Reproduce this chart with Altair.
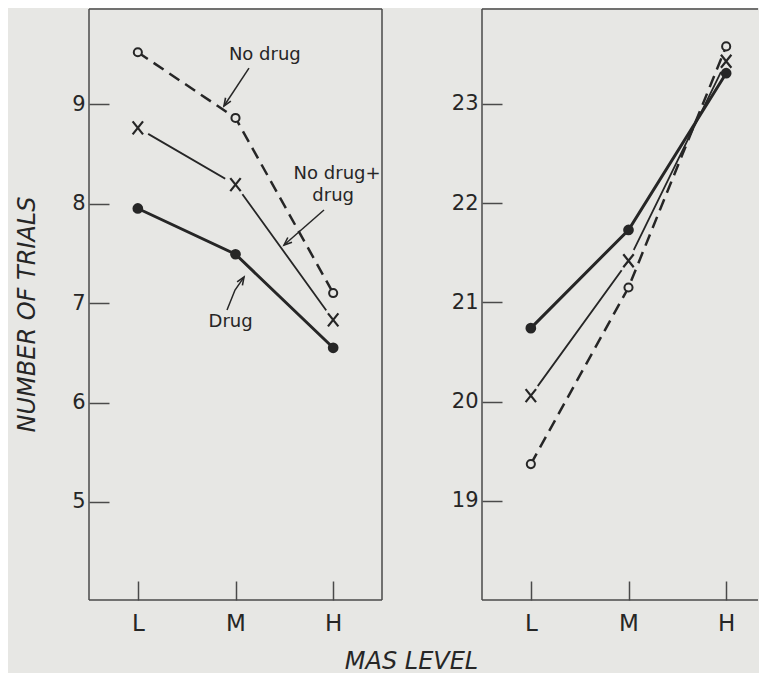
import altair as alt
import pandas as pd

# ---------------- data ----------------
levels = ["L", "M", "H"]
level_pos = [1, 2, 3]

left_no_drug = [9.52, 8.86, 7.10]
left_combined = [8.76, 8.19, 6.83]
left_drug = [7.95, 7.49, 6.55]

right_no_drug = [19.37, 21.15, 23.58]
right_combined = [20.06, 21.42, 23.43]
right_drug = [20.74, 21.73, 23.31]

left_ticks = [5, 6, 7, 8, 9]
right_ticks = [19, 20, 21, 22, 23]

ann_text = ["No drug", "No drug+", "drug", "Drug"]
ann_x = [2.30, 3.04, 3.00, 1.95]
ann_y = [9.49, 8.30, 8.075, 6.81]

arrow_id = [1, 1, 2, 2, 3, 3, 3]
arrow_order = [0, 1, 0, 1, 0, 1, 2]
arrow_x = [2.138, 1.882, 2.906, 2.497, 1.913, 1.995, 2.087]
arrow_y = [9.36, 8.98, 7.935, 7.583, 6.93, 7.13, 7.26]
head_x = [1.882, 2.497, 2.087]
head_y = [8.98, 7.583, 7.26]
head_angle = [213, 229, 33]

# ---------------- style ----------------
BG = "#e7e7e4"
INK = "#262626"
FRAME = "#4a4a4a"
FONT = "DejaVu Sans"
W_L, W_R, H = 293, 276, 591
PX_PER_LEVEL = W_L / 3.0

X_PATH = "M-0.8,-1L0.8,1M-0.8,1L0.8,-1"
HEAD_PATH = "M-0.45,1.1L0,0L0.45,1.1"


def make_df(no_drug, combined, drug):
    rows = []
    for name, vals in (("No drug", no_drug), ("Combined", combined), ("Drug", drug)):
        for lv, p, v in zip(levels, level_pos, vals):
            rows.append({"series": name, "level": p, "label": lv, "value": v})
    return pd.DataFrame(rows)


def frame_layers(width, right_edge):
    d = pd.DataFrame({"k": [0]})
    base = alt.Chart(d).mark_rule(color=FRAME, strokeWidth=1.5)
    layers = [
        base.encode(x=alt.value(0), y=alt.value(0), y2=alt.value(H)),
        base.encode(x=alt.value(0), x2=alt.value(width), y=alt.value(0)),
        base.encode(x=alt.value(0), x2=alt.value(width), y=alt.value(H)),
    ]
    if right_edge:
        layers.append(base.encode(x=alt.value(width), y=alt.value(0), y2=alt.value(H)))
    return layers


def panel(df, ydom, yticks, width, left):
    xdom = [0.5, 0.5 + width / PX_PER_LEVEL]
    label_expr = "%s[datum.value - 1]" % str(levels)
    xkw = dict(values=level_pos, labelExpr=label_expr, domain=False, grid=False,
               tickSize=19, offset=-19, tickWidth=1.5, tickColor=FRAME,
               labelPadding=12, labelFontSize=23, labelColor=INK, labelFont=FONT,
               labelFlush=False)
    ykw = dict(values=yticks, domain=False, grid=False, tickSize=20, offset=-20,
               tickWidth=1.5, tickColor=FRAME, labelPadding=4, labelFontSize=21,
               labelColor=INK, labelFont=FONT)
    if left:
        xkw.update(title="MAS LEVEL", titleX=322, titleY=80, titleAlign="center",
                   titleBaseline="middle", titleAngle=0, titleFontSize=24,
                   titleFontStyle="italic", titleFontWeight="normal",
                   titleColor=INK, titleFont=FONT)
        ykw.update(title="NUMBER OF TRIALS", titleX=-82, titleY=305,
                   titleAlign="center", titleBaseline="middle", titleAngle=270,
                   titleFontSize=24, titleFontStyle="italic",
                   titleFontWeight="normal", titleColor=INK, titleFont=FONT)
    else:
        xkw.update(title=None)
        ykw.update(title=None)

    X = alt.X("level:Q", scale=alt.Scale(domain=xdom, nice=False, zero=False),
              axis=alt.Axis(**xkw))
    Y = alt.Y("value:Q", scale=alt.Scale(domain=ydom, nice=False, zero=False),
              axis=alt.Axis(**ykw))

    base = alt.Chart(df).encode(x=X, y=Y)
    comb = base.transform_filter(alt.datum.series == "Combined")
    drug = base.transform_filter(alt.datum.series == "Drug")
    nod = base.transform_filter(alt.datum.series == "No drug")

    layers = frame_layers(width, left)
    layers += [
        comb.mark_line(color=INK, strokeWidth=1.8),
        comb.mark_circle(color=BG, size=560, opacity=1),
        drug.mark_line(color=INK, strokeWidth=3),
        nod.mark_line(color=INK, strokeWidth=2.5, strokeDash=[12, 7]),
        drug.mark_point(shape="circle", filled=True, color=INK, size=115, opacity=1),
        nod.mark_point(shape="circle", filled=True, fill=BG, stroke=INK,
                       strokeWidth=2, size=66, opacity=1),
        comb.mark_point(shape=X_PATH, filled=False, stroke=INK, strokeWidth=2.2,
                        size=169, opacity=1),
    ]

    if left:
        ann = pd.DataFrame({"text": ann_text, "level": ann_x, "value": ann_y})
        arr = pd.DataFrame({"id": arrow_id, "o": arrow_order,
                            "level": arrow_x, "value": arrow_y})
        heads = pd.DataFrame({"level": head_x, "value": head_y, "angle": head_angle})
        layers += [
            alt.Chart(arr).mark_line(color=INK, strokeWidth=1.5).encode(
                x=X, y=Y, detail="id:N", order="o:Q"),
            alt.Chart(heads).mark_point(shape=HEAD_PATH, filled=False, stroke=INK,
                                        strokeWidth=1.6, size=200, opacity=1).encode(
                x=X, y=Y, angle=alt.Angle("angle:Q", scale=None)),
            alt.Chart(ann).mark_text(font=FONT, fontSize=18, color=INK,
                                     align="center", baseline="middle").encode(
                x=X, y=Y, text="text:N"),
        ]

    return alt.layer(*layers).properties(width=width, height=H)


left_chart = panel(make_df(left_no_drug, left_combined, left_drug),
                   [4.015, 9.955], left_ticks, W_L, True)
right_chart = panel(make_df(right_no_drug, right_combined, right_drug),
                    [18.0, 23.957], right_ticks, W_R, False)

chart = (
    alt.hconcat(left_chart, right_chart, spacing=100, bounds="flush")
    .properties(padding={"left": 7, "top": 0, "right": 0, "bottom": 0},
                background=BG)
    .configure_view(stroke=None)
)

chart.save("out.html", embed_options={"renderer": "svg", "actions": False})
